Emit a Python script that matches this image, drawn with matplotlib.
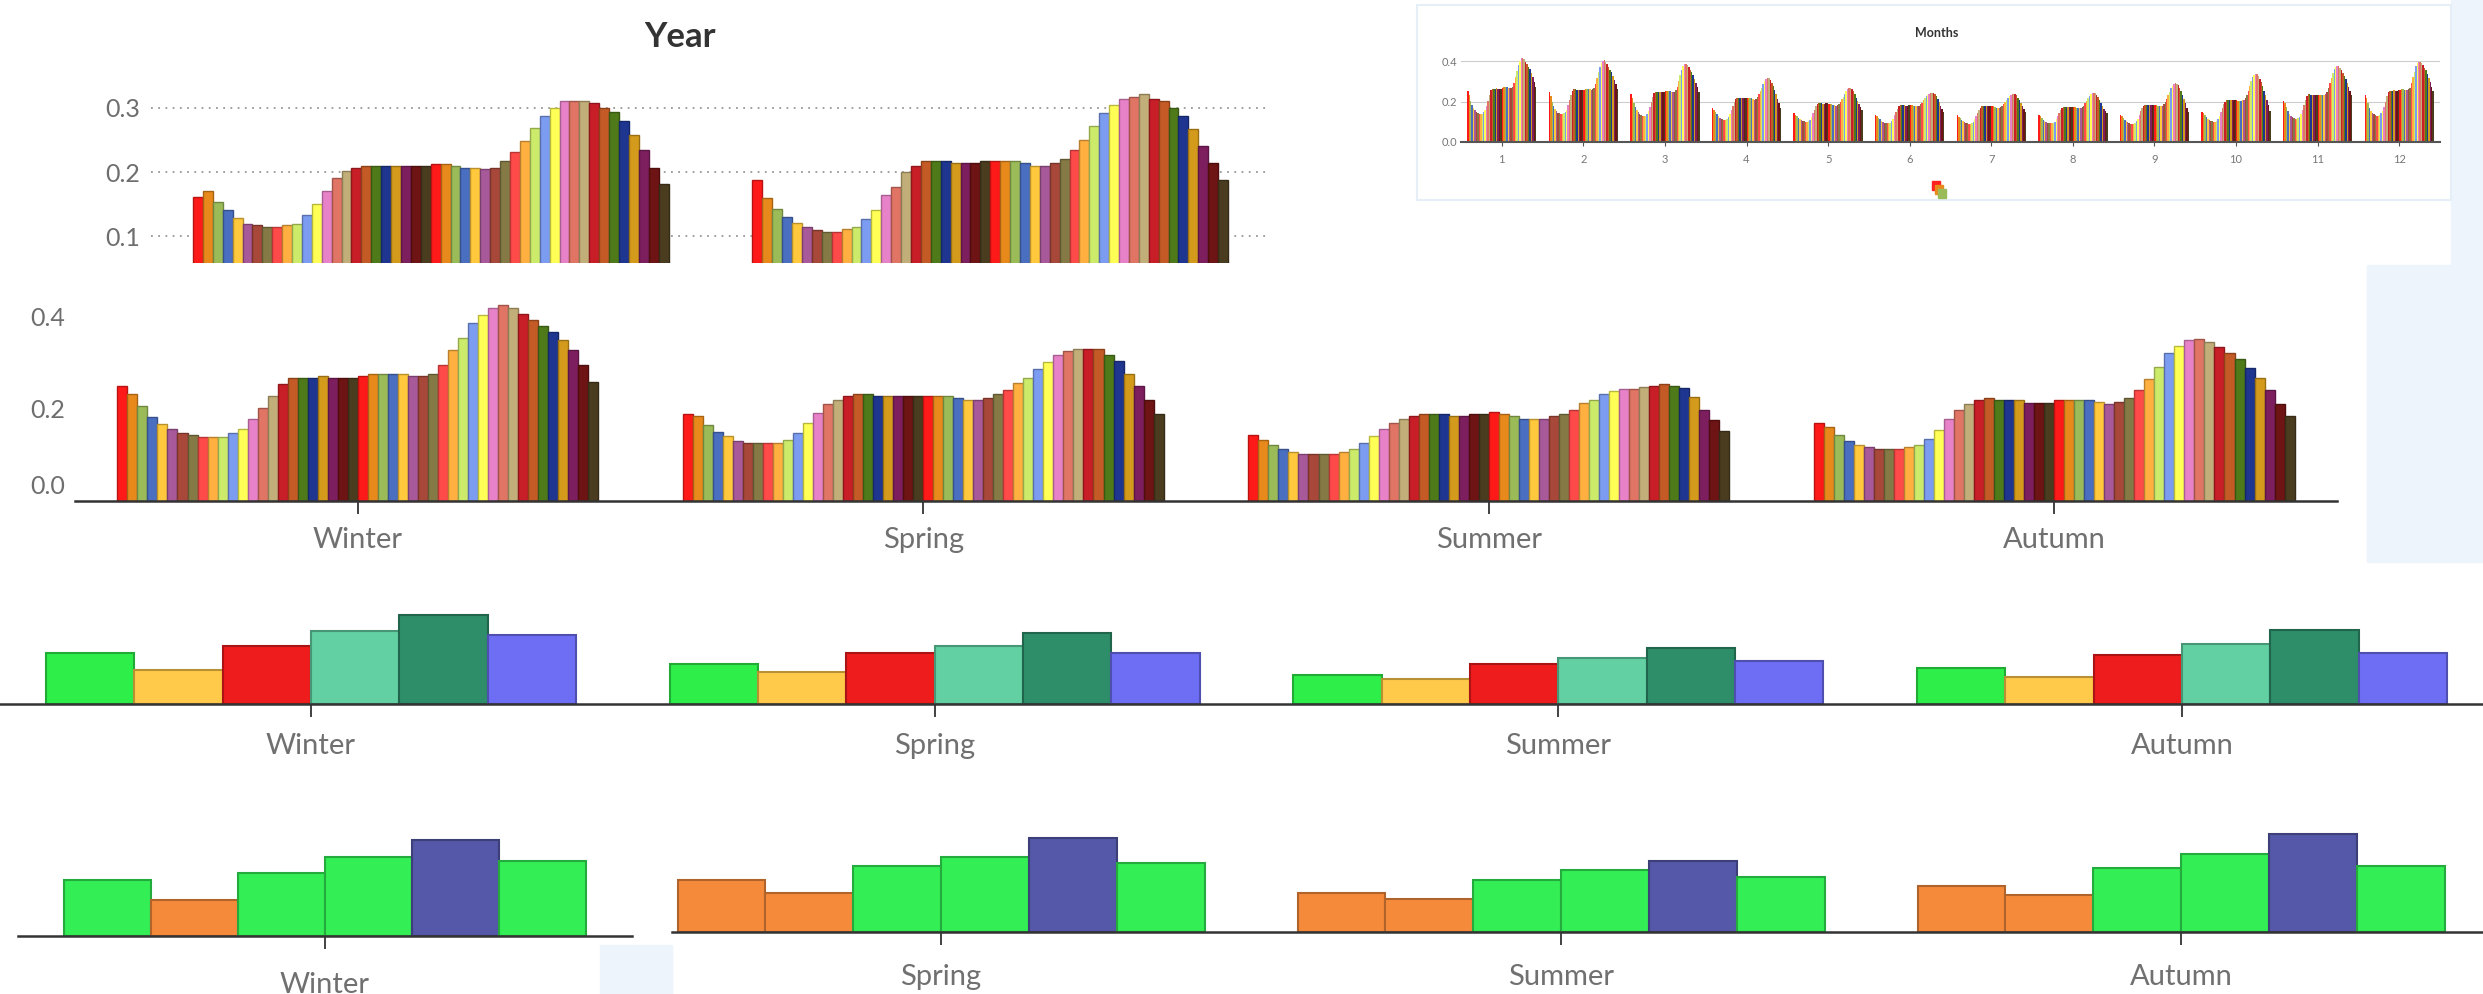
import numpy as np
import matplotlib.pyplot as plt
from matplotlib.colors import to_rgb
from matplotlib.patches import Rectangle
from matplotlib.transforms import ScaledTranslation

plt.rcParams['font.family'] = ['Lato', 'DejaVu Sans']

# ---------------- data ----------------
seasons = ["Winter", "Spring", "Summer", "Autumn"]
month_labels = [str(m) for m in range(1, 13)]

# Year panel: two daily profiles (48 half hours)
year_a = [0.161, 0.170, 0.154, 0.141, 0.128, 0.120, 0.117, 0.114, 0.114, 0.117,
          0.120, 0.134, 0.151, 0.171, 0.191, 0.201, 0.207, 0.210, 0.210, 0.210,
          0.210, 0.210, 0.210, 0.210, 0.213, 0.213, 0.210, 0.207, 0.207, 0.204,
          0.207, 0.217, 0.231, 0.248, 0.268, 0.287, 0.300, 0.310, 0.310, 0.310,
          0.307, 0.300, 0.294, 0.280, 0.257, 0.234, 0.207, 0.181]
year_b = [0.188, 0.160, 0.143, 0.130, 0.121, 0.114, 0.110, 0.107, 0.107, 0.111,
          0.114, 0.127, 0.141, 0.164, 0.177, 0.200, 0.210, 0.217, 0.217, 0.217,
          0.214, 0.214, 0.214, 0.217, 0.217, 0.217, 0.217, 0.214, 0.210, 0.210,
          0.214, 0.220, 0.234, 0.250, 0.271, 0.291, 0.304, 0.313, 0.317, 0.321,
          0.313, 0.310, 0.300, 0.287, 0.267, 0.241, 0.214, 0.188]

# Season panel: daily profiles (48 half hours)
winter = [0.250, 0.232, 0.206, 0.183, 0.167, 0.157, 0.148, 0.143, 0.139, 0.139,
          0.139, 0.148, 0.157, 0.179, 0.202, 0.228, 0.254, 0.268, 0.268, 0.268,
          0.272, 0.268, 0.268, 0.268, 0.272, 0.277, 0.277, 0.277, 0.277, 0.272,
          0.272, 0.277, 0.295, 0.328, 0.354, 0.386, 0.404, 0.420, 0.425, 0.420,
          0.407, 0.394, 0.380, 0.367, 0.349, 0.328, 0.295, 0.259]
spring = [0.188, 0.184, 0.166, 0.151, 0.141, 0.130, 0.125, 0.125, 0.125, 0.125,
          0.133, 0.148, 0.170, 0.192, 0.210, 0.220, 0.228, 0.232, 0.232, 0.228,
          0.228, 0.228, 0.228, 0.228, 0.228, 0.228, 0.228, 0.224, 0.220, 0.220,
          0.224, 0.232, 0.242, 0.256, 0.268, 0.286, 0.301, 0.317, 0.327, 0.331,
          0.330, 0.330, 0.317, 0.304, 0.277, 0.250, 0.220, 0.188]
summer = [0.144, 0.133, 0.122, 0.112, 0.107, 0.103, 0.103, 0.103, 0.103, 0.107,
          0.112, 0.126, 0.141, 0.157, 0.170, 0.179, 0.184, 0.188, 0.188, 0.188,
          0.184, 0.184, 0.188, 0.188, 0.193, 0.188, 0.184, 0.179, 0.179, 0.179,
          0.184, 0.188, 0.197, 0.212, 0.220, 0.233, 0.238, 0.243, 0.243, 0.248,
          0.251, 0.254, 0.251, 0.246, 0.225, 0.197, 0.175, 0.152]
autumn = [0.170, 0.161, 0.144, 0.130, 0.122, 0.117, 0.112, 0.112, 0.112, 0.117,
          0.122, 0.134, 0.154, 0.179, 0.197, 0.211, 0.220, 0.224, 0.220, 0.220,
          0.220, 0.214, 0.214, 0.214, 0.220, 0.220, 0.220, 0.220, 0.215, 0.211,
          0.215, 0.224, 0.242, 0.266, 0.291, 0.322, 0.336, 0.349, 0.353, 0.346,
          0.335, 0.322, 0.308, 0.290, 0.268, 0.242, 0.211, 0.184]

# Months panel: daily profiles per month
jan = [0.250, 0.232, 0.205, 0.182, 0.166, 0.156, 0.147, 0.142, 0.138, 0.138, 0.139, 0.147,
       0.158, 0.180, 0.205, 0.232, 0.255, 0.262, 0.262, 0.262, 0.265, 0.262, 0.262, 0.262,
       0.266, 0.270, 0.270, 0.270, 0.268, 0.266, 0.266, 0.270, 0.290, 0.322, 0.350, 0.383,
       0.402, 0.413, 0.415, 0.410, 0.398, 0.386, 0.372, 0.360, 0.342, 0.322, 0.295, 0.270]
feb = [0.245, 0.228, 0.200, 0.178, 0.162, 0.152, 0.145, 0.141, 0.140, 0.140, 0.141, 0.149,
       0.160, 0.182, 0.206, 0.232, 0.252, 0.260, 0.260, 0.258, 0.258, 0.256, 0.256, 0.256,
       0.258, 0.262, 0.262, 0.262, 0.260, 0.258, 0.260, 0.266, 0.285, 0.315, 0.345, 0.372,
       0.392, 0.402, 0.405, 0.398, 0.386, 0.372, 0.358, 0.345, 0.328, 0.308, 0.285, 0.262]
mar = [0.237, 0.220, 0.195, 0.172, 0.156, 0.146, 0.138, 0.133, 0.130, 0.130, 0.131, 0.140,
       0.152, 0.172, 0.196, 0.222, 0.240, 0.248, 0.248, 0.248, 0.246, 0.246, 0.248, 0.248,
       0.250, 0.252, 0.250, 0.250, 0.248, 0.246, 0.248, 0.255, 0.272, 0.300, 0.330, 0.358,
       0.376, 0.386, 0.388, 0.382, 0.370, 0.358, 0.345, 0.330, 0.312, 0.292, 0.270, 0.248]
apr = [0.168, 0.160, 0.148, 0.138, 0.128, 0.120, 0.115, 0.112, 0.110, 0.110, 0.112, 0.122,
       0.138, 0.158, 0.180, 0.200, 0.214, 0.220, 0.220, 0.220, 0.218, 0.218, 0.220, 0.220,
       0.220, 0.218, 0.218, 0.216, 0.212, 0.210, 0.214, 0.222, 0.235, 0.250, 0.268, 0.285,
       0.300, 0.312, 0.318, 0.316, 0.306, 0.292, 0.276, 0.258, 0.238, 0.215, 0.192, 0.170]
may = [0.142, 0.136, 0.128, 0.120, 0.113, 0.108, 0.104, 0.102, 0.100, 0.100, 0.102, 0.110,
       0.124, 0.142, 0.160, 0.176, 0.186, 0.192, 0.192, 0.192, 0.190, 0.190, 0.192, 0.192,
       0.190, 0.188, 0.186, 0.184, 0.182, 0.180, 0.184, 0.190, 0.200, 0.212, 0.225, 0.238,
       0.250, 0.260, 0.265, 0.265, 0.260, 0.250, 0.236, 0.220, 0.204, 0.188, 0.172, 0.158]
jun = [0.136, 0.130, 0.121, 0.113, 0.106, 0.100, 0.096, 0.094, 0.092, 0.092, 0.094, 0.102,
       0.115, 0.132, 0.150, 0.165, 0.176, 0.182, 0.182, 0.182, 0.182, 0.180, 0.180, 0.182,
       0.184, 0.182, 0.180, 0.178, 0.176, 0.176, 0.180, 0.186, 0.195, 0.206, 0.216, 0.226,
       0.234, 0.238, 0.240, 0.242, 0.240, 0.235, 0.226, 0.212, 0.196, 0.180, 0.164, 0.150]
jul = [0.132, 0.126, 0.118, 0.110, 0.103, 0.098, 0.094, 0.092, 0.090, 0.090, 0.092, 0.100,
       0.112, 0.128, 0.145, 0.160, 0.170, 0.176, 0.176, 0.178, 0.176, 0.176, 0.178, 0.178,
       0.178, 0.176, 0.172, 0.170, 0.170, 0.170, 0.174, 0.180, 0.190, 0.200, 0.210, 0.220,
       0.228, 0.234, 0.236, 0.238, 0.236, 0.230, 0.220, 0.206, 0.192, 0.176, 0.162, 0.148]
aug = [0.133, 0.127, 0.119, 0.111, 0.104, 0.099, 0.095, 0.093, 0.092, 0.092, 0.094, 0.101,
       0.112, 0.127, 0.143, 0.157, 0.167, 0.172, 0.172, 0.172, 0.174, 0.172, 0.172, 0.174,
       0.174, 0.172, 0.168, 0.166, 0.166, 0.168, 0.172, 0.180, 0.192, 0.205, 0.218, 0.228,
       0.236, 0.240, 0.242, 0.240, 0.234, 0.224, 0.210, 0.194, 0.178, 0.164, 0.152, 0.142]
sep = [0.133, 0.127, 0.119, 0.111, 0.104, 0.098, 0.094, 0.091, 0.090, 0.090, 0.093, 0.102,
       0.116, 0.134, 0.152, 0.167, 0.177, 0.183, 0.183, 0.183, 0.185, 0.183, 0.183, 0.185,
       0.185, 0.182, 0.180, 0.178, 0.178, 0.180, 0.186, 0.196, 0.212, 0.230, 0.248, 0.265,
       0.278, 0.287, 0.290, 0.288, 0.280, 0.268, 0.252, 0.232, 0.212, 0.192, 0.170, 0.150]
oct_ = [0.150, 0.143, 0.133, 0.124, 0.116, 0.110, 0.105, 0.102, 0.100, 0.100, 0.103, 0.113,
        0.128, 0.148, 0.170, 0.188, 0.200, 0.208, 0.208, 0.208, 0.206, 0.206, 0.208, 0.208,
        0.206, 0.204, 0.204, 0.204, 0.206, 0.210, 0.218, 0.232, 0.252, 0.276, 0.300, 0.320,
        0.332, 0.338, 0.336, 0.328, 0.314, 0.296, 0.276, 0.254, 0.232, 0.210, 0.182, 0.152]
nov = [0.205, 0.192, 0.172, 0.154, 0.140, 0.130, 0.123, 0.118, 0.115, 0.115, 0.117, 0.126,
       0.140, 0.160, 0.184, 0.208, 0.226, 0.235, 0.235, 0.233, 0.232, 0.230, 0.230, 0.232,
       0.234, 0.234, 0.232, 0.232, 0.234, 0.238, 0.248, 0.266, 0.290, 0.316, 0.340, 0.360,
       0.372, 0.378, 0.376, 0.368, 0.356, 0.342, 0.326, 0.310, 0.292, 0.272, 0.252, 0.232]
dec = [0.232, 0.216, 0.192, 0.170, 0.154, 0.144, 0.137, 0.133, 0.130, 0.130, 0.132, 0.141,
       0.154, 0.175, 0.200, 0.226, 0.245, 0.253, 0.253, 0.253, 0.255, 0.253, 0.253, 0.255,
       0.258, 0.260, 0.260, 0.258, 0.256, 0.256, 0.260, 0.268, 0.290, 0.320, 0.348, 0.374,
       0.390, 0.398, 0.396, 0.390, 0.380, 0.368, 0.354, 0.338, 0.318, 0.296, 0.272, 0.250]

# Seasonal summaries (6 bars per season)
summary_a = {"Winter": [0.112, 0.074, 0.126, 0.159, 0.193, 0.150],
             "Spring": [0.088, 0.070, 0.112, 0.126, 0.155, 0.112],
             "Summer": [0.063, 0.055, 0.088, 0.101, 0.121, 0.093],
             "Autumn": [0.078, 0.059, 0.107, 0.131, 0.160, 0.112]}
summary_b = {"Winter": [0.121, 0.079, 0.136, 0.172, 0.209, 0.162],
             "Spring": [0.114, 0.085, 0.144, 0.164, 0.204, 0.149],
             "Summer": [0.085, 0.071, 0.114, 0.134, 0.155, 0.120],
             "Autumn": [0.099, 0.080, 0.140, 0.169, 0.214, 0.144]}

palette = ["#FF1A1A", "#E8891C", "#9BBB59", "#4A6FC0", "#FFC83D", "#A8599A",
           "#A8483A", "#857A45", "#FF4A4A", "#FFB040", "#CDEB6A", "#7B9CF0",
           "#FFFF55", "#E882C8", "#E07565", "#C2AE78", "#C81E28", "#C45A26",
           "#4F7A1A", "#1F3690", "#D49A1C", "#7D1E5E", "#6E1414", "#4A3C1E"]
summary_a_colors = ["#2EEE4A", "#FFC94A", "#EE1C1C", "#62D0A2", "#2E8E6A", "#6E6EF5"]
summary_b_colors = {"Winter": ["#33EE55", "#F58A3A", "#33EE55", "#33EE55", "#5558A8", "#33EE55"],
                    "other": ["#F58A3A", "#F58A3A", "#33EE55", "#33EE55", "#5558A8", "#33EE55"]}

# ---------------- layout helpers ----------------
W, H = 2483, 994
fig = plt.figure(figsize=(W / 100, H / 100), dpi=100)
fig.patch.set_facecolor("white")


def box(x0, y0, x1, y1):
    return [x0 / W, 1 - y1 / H, (x1 - x0) / W, (y1 - y0) / H]


def darker(c, f=0.72):
    return tuple(np.array(to_rgb(c)) * f)


def draw_groups(ax, groups, colors, gw=0.85, lw=1.2, edge=True):
    for i, vals in enumerate(groups):
        n = len(vals)
        w = gw / n
        x = i - gw / 2 + w * (np.arange(n) + 0.5)
        cols = colors[i] if isinstance(colors[0], list) else [colors[k % len(colors)] for k in range(n)]
        ec = [darker(c) for c in cols] if edge else cols
        ax.bar(x, vals, width=w, color=cols, edgecolor=ec, linewidth=lw if edge else 0)


def clean(ax):
    ax.set_facecolor("none")
    for s in ["top", "right", "left"]:
        ax.spines[s].set_visible(False)


# light page background pieces
bg = "#EEF4FB"
for (x0, y0, x1, y1) in [(2451, 0, W, 265), (2367, 265, W, 562), (600, 945, 672, H)]:
    fig.patches.append(Rectangle((x0 / W, 1 - y1 / H), (x1 - x0) / W, (y1 - y0) / H,
                                 transform=fig.transFigure, color=bg, zorder=-2))

# ---------------- Year panel ----------------
ax1 = fig.add_axes(box(151, 60, 1270, 263))
clean(ax1)
ax1.spines["bottom"].set_visible(False)
draw_groups(ax1, [year_a, year_b], palette, lw=1.0)
ax1.set_xlim(-0.5, 1.5)
ax1.set_ylim(0.0587, 0.374)
ax1.set_yticks([0.1, 0.2, 0.3])
ax1.set_yticklabels(["0.1", "0.2", "0.3"])
ax1.yaxis.grid(True, color="#999999", linestyle=(0, (1, 3)), linewidth=1.3)
ax1.set_axisbelow(True)
ax1.tick_params(axis="y", length=0, pad=8, labelsize=18, labelcolor="#6E6E6E")
ax1.set_xticks([])
fig.text(680 / W, 1 - 37 / H, "Year", ha="center", va="center", fontsize=25,
         fontweight="bold", color="#333333")

# ---------------- Months panel ----------------
fig.patches.append(Rectangle((1417 / W, 1 - 200 / H), (2451 - 1417) / W, 195 / H,
                             transform=fig.transFigure, facecolor="white",
                             edgecolor="#E6EEF7", linewidth=1.5, zorder=-1))
axm = fig.add_axes(box(1461, 50, 2440, 142))
clean(axm)
months = [jan, feb, mar, apr, may, jun, jul, aug, sep, oct_, nov, dec]
draw_groups(axm, months, palette, edge=False)
axm.set_xlim(-0.5, 11.5)
axm.set_ylim(0, 0.455)
axm.set_yticks([0.0, 0.2, 0.4])
axm.set_yticklabels(["0.0", "0.2", "0.4"])
axm.yaxis.grid(True, color="#CCCCCC", linewidth=0.8)
axm.set_axisbelow(True)
axm.set_xticks(range(12))
axm.set_xticklabels(month_labels)
axm.spines["bottom"].set_color("#555555")
axm.spines["bottom"].set_linewidth(1.5)
axm.tick_params(axis="y", length=0, pad=3, labelsize=8, labelcolor="#777777")
axm.tick_params(axis="x", length=3, color="#555555", pad=6, labelsize=8, labelcolor="#777777")
fig.text(1937 / W, 1 - 33 / H, "Months", ha="center", va="center", fontsize=9,
         fontweight="bold", color="#333333")
for k, c in enumerate(["#FF2020", "#E8891C", "#9BBB59"]):
    fig.patches.append(Rectangle(((1932 + 3 * k) / W, 1 - (190 + 4 * k) / H), 8 / W, 9 / H,
                                 transform=fig.transFigure, color=c, zorder=3))


def season_axis(ax, labels, ticklen=9, pad=10):
    ax.set_xticks(range(len(labels)))
    ax.set_xticklabels(labels)
    ax.spines["bottom"].set_color("#333333")
    ax.spines["bottom"].set_linewidth(1.8)
    ax.tick_params(axis="x", length=ticklen, width=1.3, color="#333333", pad=pad,
                   labelsize=21, labelcolor="#707070")


# ---------------- Season profiles ----------------
ax2 = fig.add_axes(box(75, 270, 2337, 501))
clean(ax2)
draw_groups(ax2, [winter, spring, summer, autumn], palette, lw=1.0)
ax2.set_xlim(-0.5, 3.5)
ax2.set_ylim(0, 0.502)
ax2.set_yticks([0.0, 0.2, 0.4])
ax2.set_yticklabels(["0.0", "0.2", "0.4"])
ax2.tick_params(axis="y", length=0, pad=7, labelsize=18, labelcolor="#6E6E6E")
season_axis(ax2, seasons)
for lab in ax2.get_yticklabels():
    if lab.get_text() == "0.0":
        lab.set_transform(lab.get_transform() + ScaledTranslation(0, 0.17, fig.dpi_scale_trans))

# ---------------- Summary row A ----------------
ax3 = fig.add_axes(box(0, 590, W, 704))
clean(ax3)
draw_groups(ax3, [summary_a[s] for s in seasons], summary_a_colors, lw=1.5)
ax3.set_xlim(-0.4986, 3.4825)
ax3.set_ylim(0, 0.248)
ax3.set_yticks([])
season_axis(ax3, seasons, pad=12)

# ---------------- Summary row B ----------------
ax4 = fig.add_axes(box(18, 800, 632, 936))
clean(ax4)
draw_groups(ax4, [summary_b["Winter"]], [summary_b_colors["Winter"]], lw=1.5)
ax4.set_xlim(-0.5, 0.5)
ax4.set_ylim(0, 0.295)
ax4.set_yticks([])
season_axis(ax4, ["Winter"], pad=17)

ax5 = fig.add_axes(box(672, 800, W, 932))
clean(ax5)
draw_groups(ax5, [summary_b[s] for s in seasons[1:]],
            [summary_b_colors["other"]] * 3, lw=1.5)
ax5.set_xlim(-0.434, 2.487)
ax5.set_ylim(0, 0.287)
ax5.set_yticks([])
season_axis(ax5, seasons[1:], pad=14)

fig.savefig("out.png", dpi=100, facecolor=fig.get_facecolor())
